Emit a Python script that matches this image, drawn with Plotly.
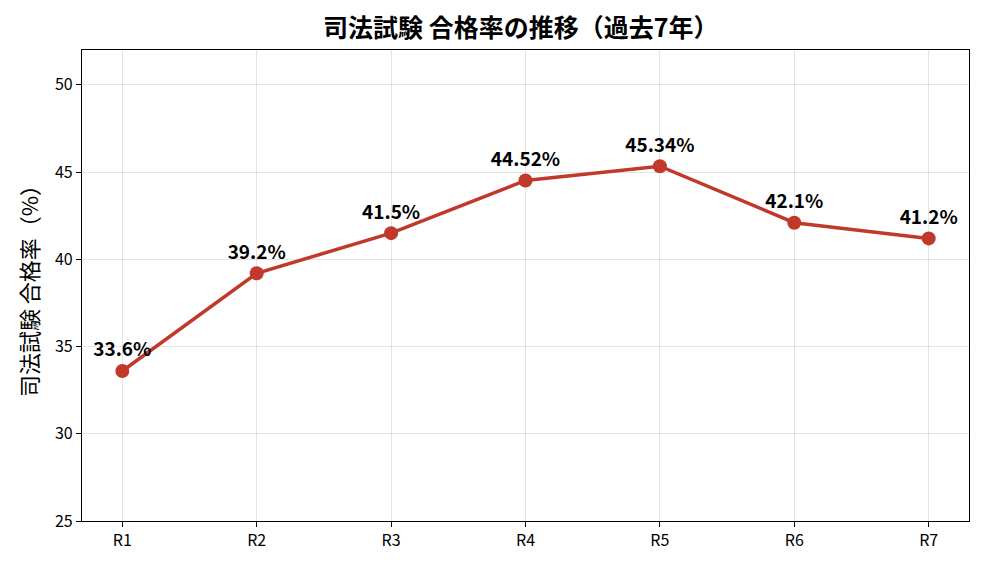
import plotly.graph_objects as go

categories = ["R1", "R2", "R3", "R4", "R5", "R6", "R7"]
pass_rates = [33.6, 39.2, 41.5, 44.52, 45.34, 42.1, 41.2]
labels = ["33.6%", "39.2%", "41.5%", "44.52%", "45.34%", "42.1%", "41.2%"]
y_ticks = [25, 30, 35, 40, 45, 50]

FONT = "Noto Sans CJK JP"
RED = "#c0392b"

fig = go.Figure()
fig.add_trace(go.Scatter(
    x=list(range(len(categories))),
    y=pass_rates,
    mode="lines+markers+text",
    line=dict(color=RED, width=3.5),
    marker=dict(color=RED, size=14),
    text=labels,
    textposition="top center",
    textfont=dict(family=FONT, size=19, color="black", weight="bold"),
    cliponaxis=False,
    showlegend=False,
))

fig.update_layout(
    width=988, height=572,
    margin=dict(l=82, r=19, t=50, b=51),
    paper_bgcolor="white", plot_bgcolor="white",
    font=dict(family=FONT, color="black"),
    title=dict(text="<b>司法試験 合格率の推移（過去7年）</b>", x=0.527, xanchor="center",
               y=0.95, yanchor="middle", font=dict(size=25, family=FONT)),
)
fig.update_xaxes(
    range=[-0.3, 6.3],
    tickvals=list(range(len(categories))), ticktext=categories,
    showgrid=True, gridcolor="rgba(0,0,0,0.1)", gridwidth=1,
    showline=True, linecolor="black", linewidth=1.2, mirror=True,
    ticks="outside", ticklen=5, tickcolor="black",
    tickfont=dict(size=16, family=FONT), zeroline=False,
)
fig.update_yaxes(
    range=[25, 52],
    tickvals=y_ticks,
    showgrid=True, gridcolor="rgba(0,0,0,0.1)", gridwidth=1,
    showline=True, linecolor="black", linewidth=1.2, mirror=True,
    ticks="outside", ticklen=5, tickcolor="black",
    tickfont=dict(size=16, family=FONT), zeroline=False,
    title=dict(text="司法試験 合格率（%）", font=dict(size=22, family=FONT), standoff=10),
)

fig.write_html("out.html")
